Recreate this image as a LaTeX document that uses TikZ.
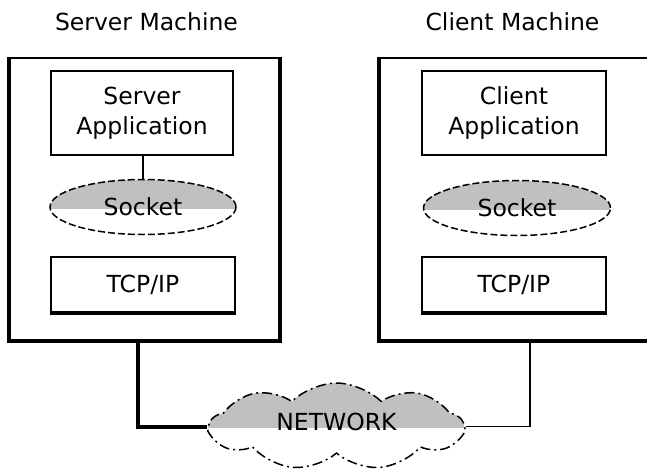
\documentclass[tikz,border=0pt]{standalone}
\usepackage{fontspec}
\setmainfont{DejaVu Sans}
\usetikzlibrary{shapes.geometric,shapes.symbols}
\definecolor{sockgray}{RGB}{192,192,192}

\begin{document}
\begin{tikzpicture}[x=1pt,y=-1pt,font=\fontsize{23.5}{30}\selectfont,
  machine/.style={draw,line width=1.5pt,minimum height=282pt,inner sep=0pt},
  layer/.style={draw,line width=2pt,inner sep=0pt,align=center},
  halfgray/.style={path picture={\fill[sockgray] (path picture bounding box.north west)
      rectangle ([yshift=-2pt]path picture bounding box.east);}},
  sock/.style={ellipse,draw,halfgray,line width=1.5pt,dash pattern=on 7pt off 3pt,
      minimum width=186pt,minimum height=55pt,inner sep=0pt}]
\clip (0,0) rectangle (647,474);
% Machines
\node[machine,minimum width=269.5pt] (srv) at (144.75,199) {};
\node[machine,minimum width=290pt] (cli) at (525,199) {};
\draw[line width=4pt] (srv.north west) -- (srv.south west) -- (srv.south east) -- (srv.north east);
\draw[line width=4pt] (cli.north west) -- (cli.south west) -- (cli.south east);
\node (srvtitle) at (146.5,22) {Server Machine};
\node (clititle) at (512.5,22) {Client Machine};
% Server side
\node[layer,minimum width=182.5pt,minimum height=84.5pt] (srvapp) at (142,113) {Server\\Application};
\node[sock] (srvsock) at (143,207) {Socket};
\node[layer,minimum width=183.5pt,minimum height=55pt] (srvtcp) at (143,284.5) {TCP/IP};
\draw[line width=4pt] (srvtcp.south west) -- (srvtcp.south east);
\draw[line width=1.5pt] (srvapp.south -| srvsock.north) -- (srvsock.north);
% Client side
\node[layer,minimum width=184.5pt,minimum height=84.5pt] (cliapp) at (514,113) {Client\\Application};
\node[sock,minimum width=187pt] (clisock) at (517,208) {Socket};
\node[layer,minimum width=184.5pt,minimum height=55pt] (clitcp) at (514,284.5) {TCP/IP};
\draw[line width=4pt] (clitcp.south west) -- (clitcp.south east);
% Network
\node[cloud,cloud puffs=9,cloud puff arc=90,cloud ignores aspect,draw,halfgray,line width=1.5pt,
  dash pattern=on 10pt off 4pt on 2pt off 4pt,minimum width=253pt,minimum height=87pt,
  inner sep=0pt] (net) at (336.5,426.5) {\raisebox{10pt}{NETWORK}\hspace{12pt}};
\coordinate (srvport) at (138,340);
\coordinate (cliport) at (530,340);
\draw[line width=4pt] (srvport) |- (net.west);
\draw[line width=1.5pt] (cliport) |- (net.east);
\end{tikzpicture}
\end{document}
